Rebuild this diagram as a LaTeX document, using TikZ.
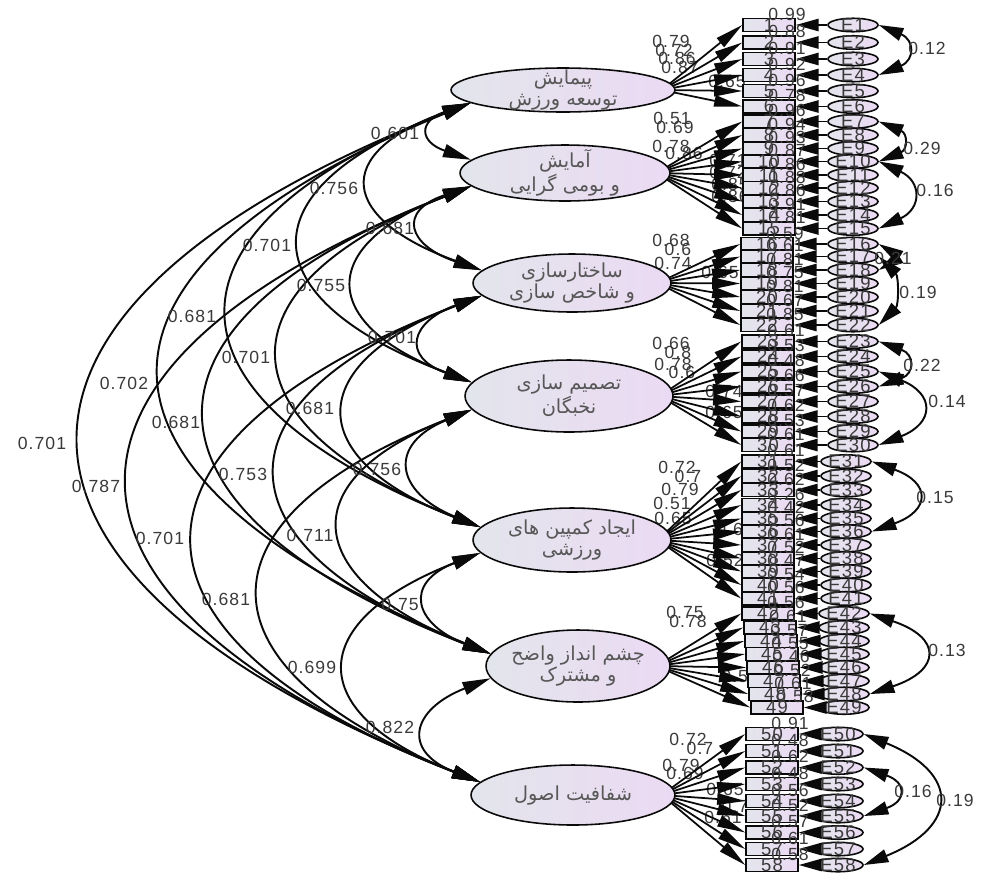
\documentclass[tikz,border=0pt]{standalone}
\usepackage{fontspec}
\setmainfont{Liberation Sans}
\newfontfamily\arabicfont[Script=Arabic]{DejaVu Sans}
\newfontfamily\numfont[LetterSpace=6]{Liberation Sans}
\TeXXeTstate=1
\usetikzlibrary{shapes.geometric,arrows.meta,calc}
\pgfdeclarelayer{bg}
\pgfdeclarelayer{back}
\pgfsetlayers{back,bg,main}
\definecolor{inkc}{HTML}{0A0A0A}
\definecolor{txtc}{HTML}{3A3A3A}
\definecolor{fillL}{HTML}{E3E5EC}
\definecolor{fillR}{HTML}{EBDAF3}
\tikzset{
  latent/.style={ellipse, draw=inkc, line width=0.9pt, left color=fillL, right color=fillR, inner sep=0pt},
  lattext/.style={font=\arabicfont\fontsize{11}{12}\selectfont, text=txtc!85, align=center, inner sep=0pt},
  obsbox/.style={rectangle, draw=inkc, line width=0.9pt, left color=fillL, right color=fillR, minimum width=1.04cm, minimum height=0.26cm, inner sep=0pt, font=\numfont\fontsize{10.5}{10.5}\selectfont, text=txtc},
  errell/.style={ellipse, draw=inkc, line width=0.9pt, left color=fillL, right color=fillR, minimum width=1.0cm, minimum height=0.27cm, inner sep=-2pt, font=\numfont\fontsize{10.5}{10.5}\selectfont, text=txtc},
  numlab/.style={font=\numfont\fontsize{10}{10}\selectfont, text=txtc, inner sep=0pt},
  ldarr/.style={draw=inkc, line width=1pt, -{Triangle[length=16pt,width=6.5pt]}},
  errarr/.style={draw=inkc, line width=1pt, -{Triangle[length=13pt,width=7pt]}},
  covarr/.style={draw=inkc, line width=1.1pt, {Triangle[length=16pt,width=7.5pt]}-{Triangle[length=16pt,width=7.5pt]}},
  ecovarr/.style={draw=inkc, line width=1.1pt, {Triangle[length=14pt,width=7.5pt]}-{Triangle[length=14pt,width=7.5pt]}},
}
\begin{document}
\begin{tikzpicture}[x=0.02cm,y=-0.02cm]
\useasboundingbox (0,0) rectangle (989,873);
\begin{pgfonlayer}{back}
\fill[white] (0,0) rectangle (989,873);
\end{pgfonlayer}

% latent variables
\node[latent, minimum width=4.48cm, minimum height=0.88cm] (L1) at (563,90) {};
\node[latent, minimum width=4.2cm, minimum height=1.12cm] (L2) at (565,173) {};
\node[latent, minimum width=3.96cm, minimum height=1.16cm] (L3) at (572,283) {};
\node[latent, minimum width=4.16cm, minimum height=1.44cm] (L4) at (569,396) {};
\node[latent, minimum width=3.96cm, minimum height=1.28cm] (L5) at (572,540) {};
\node[latent, minimum width=3.68cm, minimum height=1.44cm] (L6) at (578,666) {};
\node[latent, minimum width=4.08cm, minimum height=1.2cm] (L7) at (573,795) {};

\node[lattext] (L1t) at (L1) {\beginR پیمایش\endR\\\beginR توسعه ورزش\endR};
\node[lattext] (L2t) at (L2) {\beginR آمایش\endR\\\beginR و بومی گرایی\endR};
\node[lattext] (L3t) at (L3) {\beginR ساختارسازی\endR\\\beginR و شاخص سازی\endR};
\node[lattext] (L4t) at (L4) {\beginR تصمیم سازی\endR\\\beginR نخبگان\endR};
\node[lattext] (L5t) at (L5) {\beginR ایجاد کمپین های\endR\\\beginR ورزشی\endR};
\node[lattext] (L6t) at (L6) {\beginR چشم انداز واضح\endR\\\beginR و مشترک\endR};
\node[lattext] (L7t) at (L7) {\beginR شفافیت اصول\endR};

% observed items and error terms
\foreach \n/\y/\bx/\ex/\rr in {
 1/25/769/853/0.99, 2/42.5/769/853/0.88, 3/59/769/853/0.91, 4/75/769/853/0.92, 5/91/769/853/0.96, 6/106.5/769/853/0.78,
 7/121.5/769/853/0.96, 8/135/769/853/0.94, 9/148.5/769/853/0.93, 10/161.5/769/853/0.87, 11/175/769/853/0.86, 12/188/769/853/0.88, 13/201.5/769/853/0.86, 14/215/769/853/0.91, 15/228.5/769/853/0.81,
 16/244/767/853/0.59, 17/256.5/767/853/0.61, 18/270/767/853/0.81, 19/283.5/767/853/0.75, 20/297/767/853/0.81, 21/311/767/853/0.67, 22/325/767/853/0.85,
 23/341.5/768/853/0.61, 24/356.5/768/853/0.53, 25/371.5/768/853/0.48, 26/386.5/768/853/0.66, 27/401.5/768/853/0.57, 28/416.5/768/853/0.62, 29/431.5/768/853/0.53, 30/445/768/853/0.61,
 31/461.5/768/846/0.61, 32/476/768/846/0.52, 33/490/768/846/0.62, 34/505/768/846/0.26, 35/518.5/768/846/0.42, 36/531.5/768/846/0.56, 37/545/768/846/0.61, 38/558.5/768/846/0.52, 39/571.5/768/846/0.47, 40/585/768/846/0.54, 41/598.5/768/846/0.56,
 42/613.5/768/844/0.56, 43/627.5/770/844/0.61, 44/641/771/844/0.57, 45/654/772/844/0.55, 46/667.5/773/844/0.46, 47/681/774/844/0.52, 48/694/775/844/0.61, 49/707.5/777/844/0.58,
 50/734/772/838/0.91, 51/751/772/838/0.48, 52/767.5/772/838/0.62, 53/784/772/838/0.48, 54/801/772/838/0.56, 55/816/772/838/0.52, 56/832.5/772/838/0.57, 57/849/772/838/0.61, 58/865/772/838/0.58}
{
  \node[obsbox] (b\n) at (\bx,\y) {\n};
  \node[errell] (e\n) at (\ex,\y) {E\n};
  \draw[errarr] (e\n.west) -- (b\n.east);
  \node[numlab] (r\n) at ($(b\n.center)+(18,-11)$) {\rr};
}

\begin{pgfonlayer}{bg}
% loading labels
\foreach \t/\x/\y [count=\i] in {0.79/671/41, 0.72/674/50, 0.86/677/58, 0.87/680/67, 0.65/727/81,
 0.51/672/118, 0.69/675/127, 0.78/671/146, 0.86/684/153, 0.71/728/160, 0.72/728/172, 0.85/730/184, 0.86/730/196,
 0.68/671/240, 0.6/678/249, 0.74/673/263, 0.65/720/272,
 0.66/671/343, 0.8/678/352, 0.78/673/364, 0.6/682/372, 0.74/724/391, 0.65/724/412,
 0.72/677/467, 0.7/688/476, 0.79/680/489, 0.51/672/503, 0.65/673/518, 0.61/735/529, 0.52/725/560,
 0.75/685/612, 0.78/688/621, 0.53/740/676,
 0.72/688/739, 0.7/700/748, 0.79/681/765, 0.69/685/773, 0.65/725/789, 0.7/735/806, 0.61/723/817}
  \node[numlab] (ld\i) at (\x,\y) {\t};
% loadings
\foreach \n in {1,...,6} \draw[ldarr] ($(L1.east)+(-14,0)$) -- (b\n.west);
\foreach \n in {7,...,15} \draw[ldarr] ($(L2.east)+(-14,0)$) -- (b\n.west);
\foreach \n in {16,...,22} \draw[ldarr] ($(L3.east)+(-14,0)$) -- (b\n.west);
\foreach \n in {23,...,30} \draw[ldarr] ($(L4.east)+(-14,0)$) -- (b\n.west);
\foreach \n in {31,...,41} \draw[ldarr] ($(L5.east)+(-14,0)$) -- (b\n.west);
\foreach \n in {42,...,49} \draw[ldarr] ($(L6.east)+(-14,0)$) -- (b\n.west);
\foreach \n in {50,...,58} \draw[ldarr] ($(L7.east)+(-14,0)$) -- (b\n.west);
\end{pgfonlayer}

% covariances among latent variables
\foreach \a/\b/\d/\h in {1/2/-52/18, 2/3/-74/25, 3/4/-71/26, 4/5/-85/35, 5/6/-77/30, 6/7/-79/31,
 1/3/-141/51, 2/4/-154/59, 3/5/-179/69, 4/6/-185/73, 5/7/-177/69,
 1/4/-225/85, 2/5/-259/102, 3/6/-276/107, 4/7/-285/112,
 1/5/-326/128, 2/6/-363/140, 3/7/-379/146,
 1/6/-423/173, 2/7/-459/179, 1/7/-523/205}
  \draw[covarr] (L\a.188) .. controls +(\d,\h) and +(\d,-\h) .. (L\b.172);

\foreach \t/\x/\y [count=\i] in {0.601/395/133, 0.681/390/228, 0.701/392/337, 0.756/377/469, 0.75/400/604, 0.822/390/727,
 0.756/334/188, 0.755/321/285, 0.681/310/408, 0.711/310/535, 0.699/312/667,
 0.701/267/245, 0.701/246/357, 0.753/243/474, 0.681/226/599,
 0.681/192/316, 0.681/176/422, 0.701/160/538,
 0.702/124/383, 0.787/96/486, 0.701/42/443}
  \node[numlab] (cl\i) at (\x,\y) {\t};

% error covariances
\foreach \a/\b/\d/\h in {1/4/36/15, 7/10/29/12, 10/15/43/20, 16/18/13/8, 17/22/20/20, 23/26/36/13, 25/30/56/22, 31/36/59/21, 42/48/72/24, 52/55/43/15, 50/58/96/39}
  \draw[ecovarr] (e\a.east) .. controls +(\d,\h) and +(\d,-\h) .. (e\b.east);

\foreach \t/\x/\y [count=\i] in {0.12/927/48, 0.29/922/148, 0.16/935/190, 0.21/893/258, 0.19/918/292, 0.22/922/365, 0.14/947/401, 0.15/935/497, 0.13/947/650, 0.16/913/791, 0.19/955/800}
  \node[numlab] (el\i) at (\x,\y) {\t};
\end{tikzpicture}
\end{document}
